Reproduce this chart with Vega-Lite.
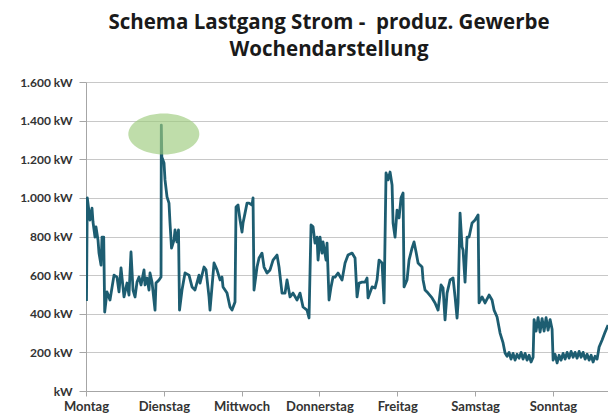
{
  "$schema": "https://vega.github.io/schema/vega-lite/v6.json",
  "width": 522,
  "height": 309,
  "autosize": "none",
  "padding": {"left": 86, "top": 82, "right": 0, "bottom": 25},
  "background": "white",
  "title": {
    "text": ["Schema Lastgang Strom -\u00a0 produz. Gewerbe", "Wochendarstellung"],
    "font": "Open Sans",
    "fontSize": 20.5,
    "fontWeight": "bold",
    "color": "#1a1a1a",
    "anchor": "middle",
    "dx": -18,
    "offset": 15,
    "lineHeight": 27.4
  },
  "config": {
    "view": {"stroke": null},
    "axis": {
      "labelFont": "Lato",
      "labelFontWeight": "bold",
      "labelColor": "#333333",
      "domainColor": "#A6A6A6",
      "tickColor": "#A6A6A6",
      "gridColor": "#C8C8C8",
      "title": null
    }
  },
  "datasets": {
    "load": [
      {"h": 0.15, "kw": 466}, {"h": 0.4, "kw": 1000}, {"h": 0.77, "kw": 950}, {"h": 1.23, "kw": 885},
      {"h": 1.85, "kw": 947}, {"h": 2.16, "kw": 875}, {"h": 2.78, "kw": 797}, {"h": 3.08, "kw": 850},
      {"h": 3.7, "kw": 782}, {"h": 4.01, "kw": 714}, {"h": 4.63, "kw": 652}, {"h": 4.94, "kw": 797},
      {"h": 5.46, "kw": 797}, {"h": 5.77, "kw": 409}, {"h": 6.48, "kw": 513}, {"h": 7.4, "kw": 471},
      {"h": 8.64, "kw": 600}, {"h": 9.56, "kw": 590}, {"h": 10.18, "kw": 513}, {"h": 10.8, "kw": 637},
      {"h": 11.72, "kw": 487}, {"h": 12.65, "kw": 559}, {"h": 13.26, "kw": 497}, {"h": 13.88, "kw": 720},
      {"h": 14.5, "kw": 523}, {"h": 15.12, "kw": 487}, {"h": 15.73, "kw": 564}, {"h": 16.35, "kw": 590},
      {"h": 16.97, "kw": 549}, {"h": 17.89, "kw": 627}, {"h": 18.2, "kw": 549}, {"h": 18.82, "kw": 585},
      {"h": 19.43, "kw": 523}, {"h": 19.74, "kw": 611}, {"h": 20.36, "kw": 564}, {"h": 21.29, "kw": 419},
      {"h": 21.59, "kw": 559}, {"h": 22.52, "kw": 575}, {"h": 23.14, "kw": 590}, {"h": 23.23, "kw": 1377},
      {"h": 23.38, "kw": 1212}, {"h": 24.06, "kw": 1181}, {"h": 24.37, "kw": 1093}, {"h": 24.99, "kw": 1005},
      {"h": 25.6, "kw": 973}, {"h": 25.91, "kw": 870}, {"h": 26.38, "kw": 740}, {"h": 27.15, "kw": 782},
      {"h": 27.46, "kw": 834}, {"h": 28.07, "kw": 772}, {"h": 28.53, "kw": 834}, {"h": 28.84, "kw": 419},
      {"h": 29.61, "kw": 523}, {"h": 30.54, "kw": 611}, {"h": 31.77, "kw": 600}, {"h": 32.7, "kw": 539},
      {"h": 33.62, "kw": 523}, {"h": 34.86, "kw": 600}, {"h": 35.17, "kw": 559}, {"h": 36.4, "kw": 642},
      {"h": 37.02, "kw": 627}, {"h": 37.94, "kw": 487}, {"h": 38.25, "kw": 419}, {"h": 39.49, "kw": 663},
      {"h": 40.41, "kw": 627}, {"h": 41.34, "kw": 575}, {"h": 41.95, "kw": 590}, {"h": 42.26, "kw": 539},
      {"h": 43.5, "kw": 507}, {"h": 44.42, "kw": 435}, {"h": 45.04, "kw": 419}, {"h": 45.96, "kw": 461},
      {"h": 46.27, "kw": 953}, {"h": 46.89, "kw": 963}, {"h": 47.51, "kw": 885}, {"h": 48.12, "kw": 823},
      {"h": 48.43, "kw": 870}, {"h": 49.05, "kw": 921}, {"h": 49.67, "kw": 973}, {"h": 50.28, "kw": 973},
      {"h": 51.21, "kw": 963}, {"h": 51.52, "kw": 1000}, {"h": 51.82, "kw": 523}, {"h": 52.75, "kw": 642},
      {"h": 53.37, "kw": 689}, {"h": 54.29, "kw": 714}, {"h": 54.91, "kw": 642}, {"h": 55.84, "kw": 611},
      {"h": 56.76, "kw": 627}, {"h": 57.69, "kw": 678}, {"h": 58.92, "kw": 704}, {"h": 59.54, "kw": 642},
      {"h": 60.46, "kw": 507}, {"h": 61.39, "kw": 507}, {"h": 62.0, "kw": 575}, {"h": 62.93, "kw": 487},
      {"h": 63.86, "kw": 507}, {"h": 65.09, "kw": 471}, {"h": 66.01, "kw": 507}, {"h": 66.94, "kw": 435},
      {"h": 68.17, "kw": 419}, {"h": 68.79, "kw": 378}, {"h": 69.41, "kw": 860}, {"h": 70.03, "kw": 850},
      {"h": 70.64, "kw": 766}, {"h": 71.26, "kw": 797}, {"h": 71.57, "kw": 678}, {"h": 72.18, "kw": 797},
      {"h": 72.8, "kw": 714}, {"h": 73.11, "kw": 772}, {"h": 74.04, "kw": 678}, {"h": 74.34, "kw": 766},
      {"h": 74.96, "kw": 471}, {"h": 75.58, "kw": 539}, {"h": 76.19, "kw": 590}, {"h": 76.81, "kw": 590},
      {"h": 77.74, "kw": 611}, {"h": 78.97, "kw": 575}, {"h": 79.9, "kw": 663}, {"h": 80.82, "kw": 704},
      {"h": 82.06, "kw": 714}, {"h": 82.98, "kw": 689}, {"h": 83.6, "kw": 487}, {"h": 84.22, "kw": 559},
      {"h": 85.14, "kw": 564}, {"h": 86.07, "kw": 564}, {"h": 86.68, "kw": 585}, {"h": 86.99, "kw": 482},
      {"h": 88.23, "kw": 539}, {"h": 89.15, "kw": 533}, {"h": 89.77, "kw": 575}, {"h": 90.38, "kw": 678},
      {"h": 91.31, "kw": 663}, {"h": 91.93, "kw": 456}, {"h": 92.54, "kw": 1129}, {"h": 93.16, "kw": 1093},
      {"h": 93.78, "kw": 1134}, {"h": 94.4, "kw": 1067}, {"h": 94.71, "kw": 870}, {"h": 95.32, "kw": 797},
      {"h": 95.94, "kw": 937}, {"h": 96.56, "kw": 896}, {"h": 97.17, "kw": 1000}, {"h": 97.79, "kw": 1025},
      {"h": 98.1, "kw": 539}, {"h": 99.02, "kw": 575}, {"h": 99.64, "kw": 678}, {"h": 100.56, "kw": 740},
      {"h": 101.18, "kw": 772}, {"h": 101.8, "kw": 720}, {"h": 102.42, "kw": 663}, {"h": 103.03, "kw": 652},
      {"h": 103.65, "kw": 642}, {"h": 103.96, "kw": 575}, {"h": 104.57, "kw": 523}, {"h": 105.5, "kw": 507},
      {"h": 106.73, "kw": 482}, {"h": 107.66, "kw": 456}, {"h": 108.59, "kw": 419}, {"h": 109.51, "kw": 549},
      {"h": 110.13, "kw": 533}, {"h": 110.74, "kw": 368}, {"h": 111.36, "kw": 507}, {"h": 112.29, "kw": 575},
      {"h": 113.21, "kw": 585}, {"h": 113.83, "kw": 487}, {"h": 114.45, "kw": 378}, {"h": 114.75, "kw": 456},
      {"h": 115.37, "kw": 921}, {"h": 115.99, "kw": 746}, {"h": 116.3, "kw": 730}, {"h": 116.91, "kw": 564},
      {"h": 117.53, "kw": 797}, {"h": 118.15, "kw": 797}, {"h": 119.07, "kw": 870}, {"h": 120.0, "kw": 885},
      {"h": 120.93, "kw": 911}, {"h": 121.23, "kw": 456}, {"h": 122.16, "kw": 487}, {"h": 123.08, "kw": 456},
      {"h": 124.32, "kw": 497}, {"h": 125.24, "kw": 471}, {"h": 125.86, "kw": 419}, {"h": 126.79, "kw": 383},
      {"h": 127.71, "kw": 300}, {"h": 128.64, "kw": 249}, {"h": 129.25, "kw": 197}, {"h": 129.87, "kw": 180},
      {"h": 130.49, "kw": 200}, {"h": 131.1, "kw": 165}, {"h": 131.72, "kw": 195}, {"h": 132.34, "kw": 160},
      {"h": 132.96, "kw": 190}, {"h": 133.58, "kw": 170}, {"h": 134.19, "kw": 200}, {"h": 134.81, "kw": 165},
      {"h": 135.43, "kw": 195}, {"h": 136.04, "kw": 160}, {"h": 136.66, "kw": 185}, {"h": 137.28, "kw": 150},
      {"h": 137.9, "kw": 175}, {"h": 138.2, "kw": 370}, {"h": 138.82, "kw": 310}, {"h": 139.43, "kw": 380},
      {"h": 140.05, "kw": 305}, {"h": 140.67, "kw": 375}, {"h": 141.29, "kw": 310}, {"h": 141.9, "kw": 380},
      {"h": 142.52, "kw": 315}, {"h": 143.14, "kw": 370}, {"h": 143.76, "kw": 320}, {"h": 144.07, "kw": 160},
      {"h": 144.68, "kw": 190}, {"h": 145.3, "kw": 145}, {"h": 145.92, "kw": 185}, {"h": 146.53, "kw": 160},
      {"h": 147.15, "kw": 195}, {"h": 147.77, "kw": 165}, {"h": 148.39, "kw": 200}, {"h": 149.0, "kw": 170},
      {"h": 149.62, "kw": 205}, {"h": 150.24, "kw": 175}, {"h": 150.85, "kw": 200}, {"h": 151.47, "kw": 170},
      {"h": 152.09, "kw": 205}, {"h": 152.7, "kw": 175}, {"h": 153.32, "kw": 200}, {"h": 153.94, "kw": 165},
      {"h": 154.56, "kw": 190}, {"h": 155.17, "kw": 160}, {"h": 155.79, "kw": 185}, {"h": 156.41, "kw": 150},
      {"h": 157.02, "kw": 180}, {"h": 157.64, "kw": 165}, {"h": 158.26, "kw": 228}, {"h": 159.18, "kw": 264},
      {"h": 160.11, "kw": 305}, {"h": 161.03, "kw": 342}
    ],
    "mark": [{"h": 24, "kw": 1331}]
  },
  "layer": [
    {
      "data": {"name": "load"},
      "mark": {"type": "line", "color": "#1D5D71", "strokeWidth": 2.8, "clip": true, "strokeJoin": "round"},
      "encoding": {
        "x": {
          "field": "h",
          "type": "quantitative",
          "scale": {"domain": [0, 161], "nice": false, "zero": false},
          "axis": {
            "values": [0, 24, 48, 72, 96, 120, 144],
            "tickCount": 20,
            "labelExpr": "['Montag','Dienstag','Mittwoch','Donnerstag','Freitag','Samstag','Sonntag'][round(datum.value/24)]",
            "grid": false,
            "tickSize": 5,
            "labelFontSize": 13,
            "labelPadding": 4,
            "labelFlush": false,
            "labelOverlap": false
          }
        },
        "y": {
          "field": "kw",
          "type": "quantitative",
          "scale": {"domain": [0, 1600], "nice": false},
          "axis": {
            "values": [0, 200, 400, 600, 800, 1000, 1200, 1400, 1600],
            "tickCount": 20,
            "labelExpr": "datum.value == 0 ? 'kW' : replace(format(datum.value, ','), ',', '.') + ' kW'",
            "grid": true,
            "tickSize": 7,
            "labelFontSize": 12,
            "labelPadding": 7,
            "labelOverlap": false
          }
        }
      }
    },
    {
      "data": {"name": "mark"},
      "mark": {
        "type": "point",
        "filled": true,
        "shape": "M-1,0C-1,-0.3187,-0.5523,-0.577,0,-0.577C0.5523,-0.577,1,-0.3187,1,0C1,0.3187,0.5523,0.577,0,0.577C-0.5523,0.577,-1,0.3187,-1,0Z",
        "size": 5041,
        "color": "#9CCB7C",
        "opacity": 0.65,
        "strokeWidth": 0
      },
      "encoding": {
        "x": {"field": "h", "type": "quantitative"},
        "y": {"field": "kw", "type": "quantitative"}
      }
    }
  ]
}
